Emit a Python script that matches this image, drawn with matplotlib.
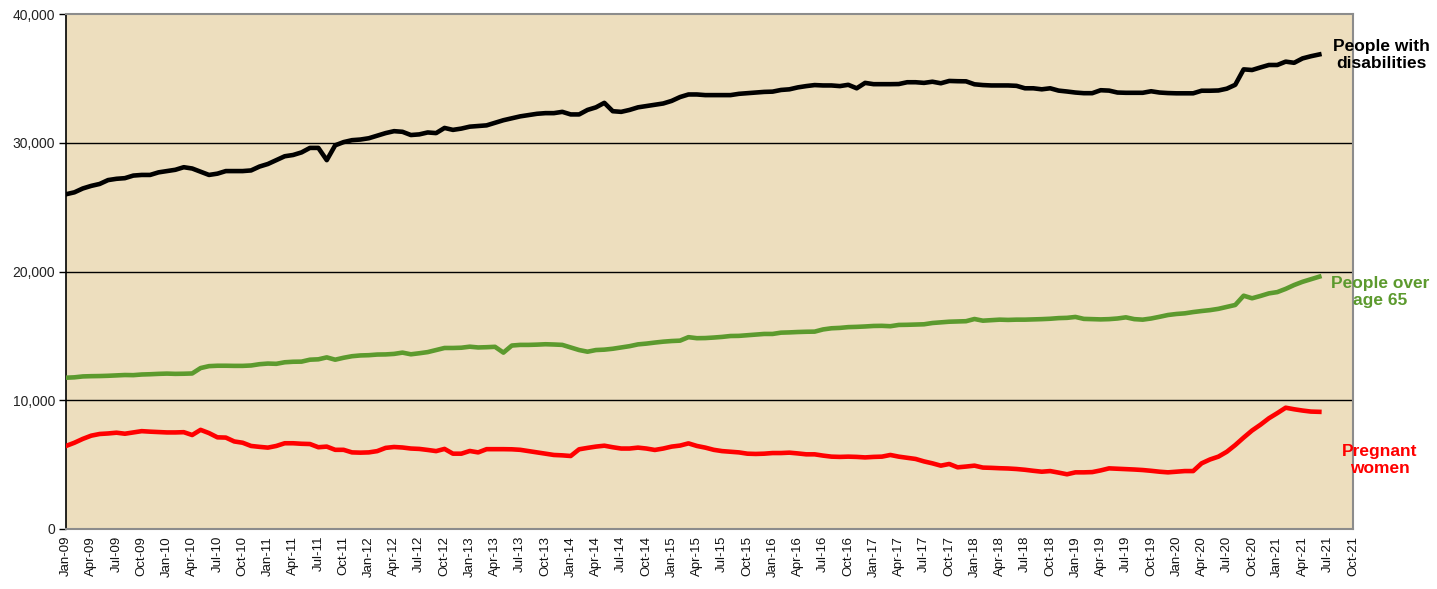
import matplotlib
matplotlib.use("Agg")
import matplotlib.pyplot as plt
import numpy as np

# ---- data (monthly, Jan-09 .. Jun-21) ----
start_year = 2009
disabilities = [
    26000, 26150, 26450, 26650, 26800, 27100, 27200, 27250, 27450, 27500, 27500, 27700,
    27800, 27900, 28100, 28000, 27750, 27500, 27600, 27800, 27800, 27800, 27850, 28150,
    28350, 28650, 28950, 29050, 29250, 29600, 29600, 28650, 29800, 30050, 30200, 30250,
    30350, 30550, 30750, 30900, 30850, 30600, 30650, 30800, 30750, 31150, 31000, 31100,
    31250, 31300, 31350, 31550, 31750, 31900, 32050, 32150, 32250, 32300, 32300, 32400,
    32200, 32200, 32550, 32750, 33100, 32450, 32400, 32550, 32750, 32850, 32950, 33050,
    33250, 33550, 33750, 33750, 33700, 33700, 33700, 33700, 33800, 33850, 33900, 33950,
    33970, 34100, 34150, 34300, 34400, 34480, 34450, 34450, 34400, 34500, 34230, 34650,
    34550, 34550, 34550, 34560, 34700, 34700, 34650, 34740, 34620, 34800, 34780, 34770,
    34540, 34480, 34450, 34450, 34450, 34420, 34230, 34230, 34150, 34230, 34050, 33980,
    33900, 33850, 33850, 34080, 34050, 33900, 33880, 33880, 33880, 34000, 33900, 33860,
    33840, 33840, 33840, 34040, 34040, 34060, 34200, 34500, 35700, 35650, 35850, 36040,
    36040, 36300, 36210, 36550, 36720, 36860,
]
over65 = [
    11750, 11780, 11850, 11870, 11880, 11900, 11930, 11960, 11950, 12000, 12020, 12050,
    12070, 12050, 12060, 12080, 12500, 12650, 12680, 12680, 12670, 12670, 12700, 12800,
    12850, 12830, 12950, 12990, 13000, 13150, 13180, 13330, 13150, 13300, 13420, 13480,
    13500, 13550, 13560, 13600, 13700, 13570, 13650, 13740, 13900, 14060, 14060, 14080,
    14160, 14100, 14120, 14150, 13700, 14250, 14300, 14300, 14320, 14350, 14330, 14300,
    14100, 13900, 13770, 13900, 13930, 14000, 14100, 14200, 14340, 14400, 14480, 14550,
    14600, 14630, 14900, 14820, 14830, 14870, 14920, 14990, 15000, 15050, 15100, 15150,
    15150, 15250, 15270, 15300, 15320, 15330, 15500, 15590, 15620, 15680, 15700, 15730,
    15770, 15780, 15750, 15850, 15860, 15880, 15900, 16000, 16050, 16100, 16120, 16140,
    16310, 16180, 16220, 16260, 16240, 16260, 16260, 16280, 16300, 16330, 16380, 16400,
    16470, 16320, 16300, 16280, 16300, 16350, 16440, 16300, 16260, 16350, 16480, 16620,
    16700, 16750, 16850, 16930, 17000, 17100, 17250, 17400, 18120, 17920, 18100, 18300,
    18400, 18650, 18950, 19200, 19400, 19600,
]
pregnant = [
    6450, 6700, 7000, 7250, 7380, 7420, 7480, 7400, 7500, 7600, 7560, 7530,
    7500, 7500, 7520, 7300, 7700, 7450, 7120, 7100, 6800, 6700, 6450, 6380,
    6320, 6450, 6660, 6660, 6620, 6600, 6350, 6400, 6150, 6150, 5950, 5930,
    5950, 6050, 6300, 6370, 6330, 6250, 6220, 6140, 6050, 6220, 5850, 5850,
    6060, 5950, 6200, 6200, 6200, 6190, 6150, 6050, 5950, 5850, 5750, 5720,
    5670, 6190, 6300, 6400, 6470, 6350, 6250, 6250, 6320, 6250, 6140, 6250,
    6400, 6480, 6650, 6450, 6320, 6150, 6050, 6000, 5950, 5850, 5830, 5850,
    5900, 5900, 5930, 5870, 5800, 5800, 5700, 5620, 5600, 5620, 5600, 5560,
    5600, 5620, 5750, 5620, 5530, 5440, 5250, 5100, 4920, 5050, 4790, 4850,
    4920, 4770, 4750, 4720, 4700, 4660, 4600, 4520, 4450, 4500, 4380, 4250,
    4400, 4400, 4420, 4550, 4710, 4680, 4650, 4620, 4580, 4520, 4450, 4400,
    4450, 4500, 4500, 5100, 5400, 5620, 6000, 6520, 7100, 7650, 8100, 8600,
    9000, 9420, 9300, 9200, 9120, 9100,
]
month_names = ["Jan", "Apr", "Jul", "Oct"]
y_ticks = [0, 10000, 20000, 30000, 40000]
series_labels = ["People with\ndisabilities", "People over\nage 65", "Pregnant\nwomen"]

assert len(disabilities) == len(over65) == len(pregnant) == 150

x = np.arange(len(disabilities))
tick_pos = np.arange(0, 154, 3)
tick_labels = []
for p in tick_pos:
    yr = start_year + p // 12
    tick_labels.append(f"{month_names[(p % 12) // 3]}-{yr % 100:02d}")

plt.rcParams['font.family'] = ['Liberation Sans', 'DejaVu Sans']

fig = plt.figure(figsize=(14.37, 5.89), dpi=100)
ax = fig.add_axes([66/1437, 1-529/589, (1353-66)/1437, (529-14)/589])
ax.set_facecolor('#EDDEBE')

for yv in y_ticks[1:-1]:
    ax.axhline(yv, color='black', lw=1.0, zorder=1)

green = '#5C9A2E'
ax.plot(x, disabilities, color='black', lw=3.3, solid_joinstyle='round', zorder=3)
ax.plot(x, over65, color=green, lw=3.3, solid_joinstyle='round', zorder=3)
ax.plot(x, pregnant, color='#FF0000', lw=3.3, solid_joinstyle='round', zorder=3)

ax.set_xlim(0, 153)
ax.set_ylim(0, 40000)
ax.set_yticks(y_ticks)
ax.set_yticklabels([f"{v:,}" for v in y_ticks], fontsize=10, color='#222222')
ax.set_xticks(tick_pos)
ax.set_xticklabels(tick_labels, rotation=90, fontsize=9.5, color='#111111')
ax.tick_params(axis='y', length=5, width=1, color='black', pad=3)
ax.tick_params(axis='x', length=0, pad=5)

ax.spines['left'].set_color('black')
ax.spines['left'].set_linewidth(1.2)
for s in ['top', 'right', 'bottom']:
    ax.spines[s].set_color('#8C8C8C')
    ax.spines[s].set_linewidth(1.5)

fig.text(1381/1437, 1-55/589, series_labels[0], ha='center', va='center',
         fontsize=12.5, fontweight='bold', color='black', linespacing=1.2)
fig.text(1380/1437, 1-292/589, series_labels[1], ha='center', va='center',
         fontsize=12.5, fontweight='bold', color=green, linespacing=1.2)
fig.text(1380/1437, 1-460/589, series_labels[2], ha='center', va='center',
         fontsize=12.5, fontweight='bold', color='#FF0000', linespacing=1.2)

fig.savefig('out.png', dpi=100)
